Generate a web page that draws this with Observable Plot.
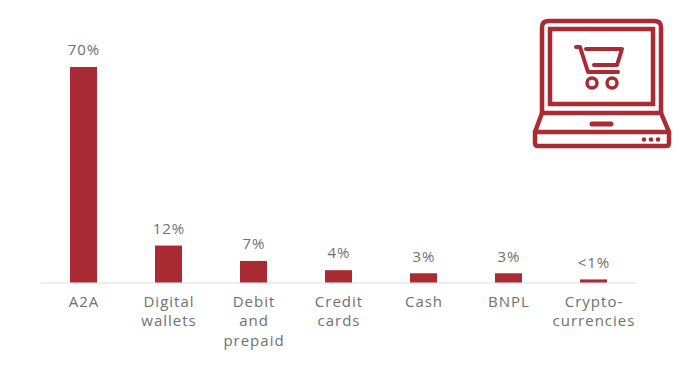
<!DOCTYPE html>
<html><head><meta charset="utf-8">
<script src="https://cdn.jsdelivr.net/npm/d3@7"></script>
<script src="https://cdn.jsdelivr.net/npm/@observablehq/plot@0.6"></script>
<style>
html,body{margin:0;padding:0;background:#fff;overflow:hidden}
#wrap{position:relative;width:700px;height:365px}
#icon{position:absolute;left:0;top:0}
#chart svg text{letter-spacing:1px}
</style></head><body>
<div id="wrap"><div id="chart"></div>
<svg id="icon" width="700" height="365" fill="none" stroke="#a92b33" stroke-width="4.500" stroke-linejoin="round" stroke-linecap="round">
<path d="M542 113V27Q542 21 549 21H654Q661 21 661 27V113"/>
<rect x="550" y="29" width="103" height="75" stroke-linejoin="miter"/>
<path d="M542 113H661L669 132V143Q669 146 666 146H538Q535 146 535 143V132Z"/>
<path d="M535 132H669"/>
<path d="M592 124H611" stroke-width="5"/>
<path d="M576 47H580L588 72H618" stroke-width="4"/>
<path d="M586 49H622L617 65H594" stroke-width="4"/>
<circle cx="592" cy="83" r="5" stroke-width="3.500"/><circle cx="612" cy="83" r="5" stroke-width="3.500"/>
<g fill="#a92b33" stroke="none"><circle cx="644" cy="139.500" r="2.300"/><circle cx="651" cy="139.500" r="2.300"/><circle cx="658" cy="139.500" r="2.300"/></g>
</svg></div>
<script>
const categories = ["A2A","Digital\nwallets","Debit\nand\nprepaid","Credit\ncards","Cash","BNPL","Crypto-\ncurrencies"];
const values = [70,12,7,4,3,3,1];
const valueLabels = ["70%","12%","7%","4%","3%","3%","<1%"];
const rows = categories.map((c,i)=>({c,v:values[i],l:valueLabels[i]}));
const font = '"Open Sans", sans-serif';
const chart = Plot.plot({
  width:700,height:365,marginLeft:41,marginRight:64,marginTop:67,marginBottom:82.5,
  style:{fontFamily:font,background:"#fff"},
  x:{domain:categories,paddingInner:0.68,paddingOuter:0.34,align:0.5},
  y:{domain:[0,70],axis:null},
  marks:[
    Plot.ruleY([0],{stroke:"#e9e9e9",strokeWidth:1.5}),
    Plot.barY(rows,{x:"c",y:"v",fill:"#a92b33"}),
    Plot.text(rows,{x:"c",y:"v",text:"l",dy:-17,fontSize:15,fill:"#707070"}),
    Plot.axisX({anchor:"bottom",tickSize:0,tickPadding:10,fontSize:15,lineHeight:1.3,fill:"#707070",label:null})
  ]
});
document.getElementById("chart").append(chart);
</script></body></html>
